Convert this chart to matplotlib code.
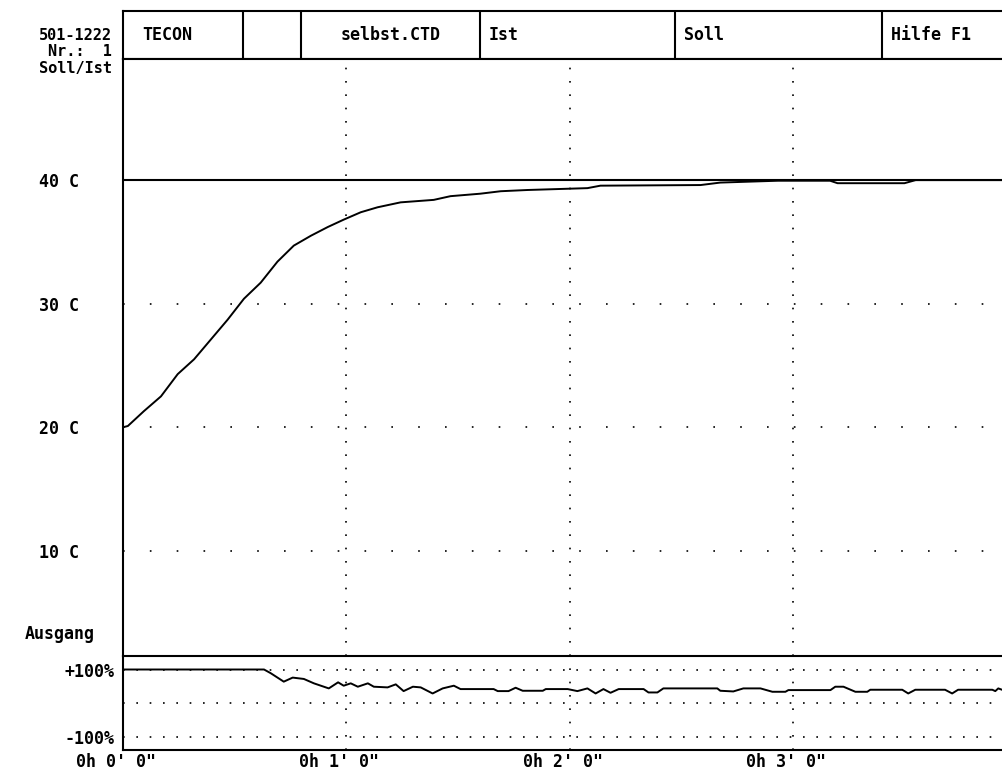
import matplotlib
matplotlib.use("Agg")
import matplotlib.pyplot as plt
import matplotlib.transforms as mtransforms

# --- data (time in seconds) ---
ist_time = [0, 1.3, 5.6, 10.2, 14.7, 19.1, 23.6, 28.1, 32.5, 37.0, 41.5, 45.9,
            50.5, 55.0, 59.3, 63.9, 68.4, 74.6, 83.5, 88.0, 96.0, 101.5, 108.7,
            124.8, 128.3, 155.2, 160.5, 176.0, 190.0, 192.0, 210.0, 213.0, 236.2]
ist_temp = [20.0, 20.1, 21.3, 22.5, 24.3, 25.5, 27.1, 28.7, 30.4, 31.7, 33.4, 34.7,
            35.5, 36.2, 36.8, 37.4, 37.8, 38.2, 38.4, 38.7, 38.9, 39.1, 39.2,
            39.35, 39.55, 39.6, 39.8, 39.95, 39.95, 39.75, 39.75, 40.0, 40.0]

soll_time = [0, 236.2]
soll_temp = [40, 40]

out_time = [0, 37.9, 39.7, 43.2, 45.6, 48.6, 51.3, 55.3, 57.8, 59.3, 61.2, 63.1,
            65.8, 67.4, 71.1, 73.3, 75.4, 77.9, 80.0, 83.2, 85.9, 88.9, 90.7,
            99.6, 100.7, 103.6, 105.5, 107.4, 112.8, 113.6, 119.5, 122.1, 124.8,
            127.0, 129.1, 131.0, 133.2, 139.9, 141.2, 143.6, 145.2, 159.7, 160.5,
            164.0, 166.7, 171.3, 174.5, 178.0, 178.8, 190.1, 191.4, 193.6, 196.8,
            200.0, 200.8, 209.4, 211.0, 212.9, 220.9, 222.8, 224.4, 233.6, 234.4,
            235.2, 236.2]
out_pct = [100, 100, 89, 64, 76, 72, 59, 44, 62, 52, 59, 49,
           59, 49, 47, 56, 36, 49, 47, 29, 44, 52, 42,
           42, 36, 36, 46, 37, 37, 42, 42, 36, 44,
           29, 42, 31, 42, 42, 32, 32, 44, 44, 37,
           35, 44, 44, 34, 34, 39, 39, 49, 49, 34,
           34, 40, 40, 29, 40, 40, 29, 40, 40, 36,
           44, 40]

temp_ticks = [10, 20, 30, 40]
temp_labels = ["10 C", "20 C", "30 C", "40 C"]
out_ticks = [100, -100]
out_labels = ["+100%", "-100%"]
time_ticks = [0, 60, 120, 180]
time_labels = ["0h 0' 0\"", "0h 1' 0\"", "0h 2' 0\"", "0h 3' 0\""]

header_edges = [123, 243, 301, 480, 675, 882]
header_texts = ["TECON", "", "selbst.CTD", "Ist", "Soll", "Hilfe F1"]

W, H = 1002, 774
FONT = dict(family="DejaVu Sans Mono", weight="bold", size=12)
SMALL = dict(FONT, size=11)
SPINE = 1.5


def box(x0, y0, x1, y1):
    return [x0 / W, 1 - y1 / H, (x1 - x0) / W, (y1 - y0) / H]


fig = plt.figure(figsize=(W / 100, H / 100), dpi=100)
ax_head = fig.add_axes(box(123, 11, 1002, 59))
ax = fig.add_axes(box(123, 59, 1002, 656))
ax_lo = fig.add_axes(box(123, 656, 1002, 750))

# header row of cells
ax_head.set_xlim(123, 1002)
ax_head.set_ylim(0, 1)
ax_head.set_xticks([])
ax_head.set_yticks([])
for s in ax_head.spines.values():
    s.set_linewidth(SPINE)
ax_head.spines["right"].set_visible(False)
for x in header_edges[1:]:
    ax_head.axvline(x, color="black", lw=SPINE)
for x0, x1, t in zip(header_edges, header_edges[1:] + [1002], header_texts):
    if t == "selbst.CTD":
        ax_head.text((x0 + x1) / 2, 0.5, t, ha="center", va="center", **FONT)
    elif t:
        ax_head.text(x0 + (19 if t == "TECON" else 9), 0.5, t,
                     ha="left", va="center", **FONT)

# main temperature panel
ax.plot(soll_time, soll_temp, color="black", lw=1.5)
ax.plot(ist_time, ist_temp, color="black", lw=1.4)
ax.set_xlim(0, 236.2)
ax.set_ylim(1.49, 49.8)
for y in temp_ticks[:-1]:
    ax.axhline(y, color="black", lw=1.2, ls=(0, (1, 15.1)))
for x in time_ticks[1:]:
    ax.axvline(x, color="black", lw=1.2, ls=(0, (1, 7)))
ax.set_xticks([])
ax.set_yticks(temp_ticks)
ax.set_yticklabels(temp_labels, ha="center", **FONT)
ax.tick_params(axis="y", length=0, pad=46)
for side in ("right", "bottom"):
    ax.spines[side].set_visible(False)
for side in ("left", "top"):
    ax.spines[side].set_linewidth(SPINE)

# lower output panel
ax_lo.plot(out_time, out_pct, color="black", lw=1.4)
ax_lo.set_xlim(0, 236.2)
ax_lo.set_ylim(-138.5, 140)
for y in (100, 0, -100):
    ax_lo.axhline(y, color="black", lw=1.2, ls=(0, (1, 7)))
for x in time_ticks[1:]:
    ax_lo.axvline(x, color="black", lw=1.2, ls=(0, (1, 7)))
ax_lo.set_yticks(out_ticks)
ax_lo.set_yticklabels(out_labels, **FONT)
ax_lo.set_xticks(time_ticks)
ax_lo.set_xticklabels(time_labels, **FONT)
ax_lo.tick_params(axis="y", length=0, pad=6)
ax_lo.tick_params(axis="x", length=0, pad=2.5)
shift = mtransforms.ScaledTranslation(-7 / 100, 0, fig.dpi_scale_trans)
for lab in ax_lo.get_xticklabels():
    lab.set_transform(lab.get_transform() + shift)
ax_lo.spines["right"].set_visible(False)
for side in ("left", "top", "bottom"):
    ax_lo.spines[side].set_linewidth(SPINE)

# left-hand captions
fig.text(112 / W, 1 - 36 / H, "501-1222", ha="right", va="center", **SMALL)
fig.text(112 / W, 1 - 52 / H, "Nr.:  1", ha="right", va="center", **SMALL)
fig.text(112 / W, 1 - 69 / H, "Soll/Ist", ha="right", va="center", **SMALL)
fig.text(60 / W, 1 - 634 / H, "Ausgang", ha="center", va="center", **FONT)

fig.savefig("out.png", dpi=100)
